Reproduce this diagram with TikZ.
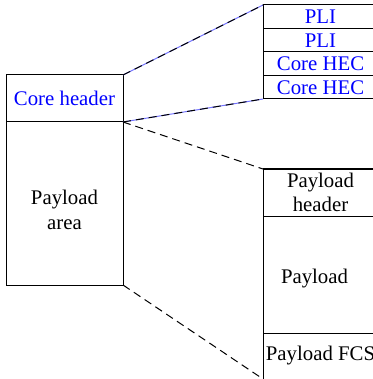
\documentclass[tikz,border=0pt]{standalone}
\usepackage{fontspec}
\setmainfont{Liberation Serif}
\usetikzlibrary{positioning}

\begin{document}
\begin{tikzpicture}[x=0.5pt, y=-0.5pt,
				field/.style={rectangle, draw, align=center, inner sep=0pt, outer sep=0pt,
						line width=0.5pt, font=\fontsize{10.4}{12}\selectfont},
				corefield/.style={field, text=blue, minimum width=57.5pt, minimum height=11.75pt},
				payfield/.style={field, minimum width=57.5pt},
				inlabel/.style={align=center, inner sep=0pt, font=\fontsize{10.4}{12.5}\selectfont},
				zoomline/.style={draw, line width=0.5pt, dash pattern=on 4pt off 2.5pt}
			]
			\useasboundingbox (0,0) rectangle (373,379);
			\clip (0,0) rectangle (373,379);

			% frame on the left
			\node [field, text=blue, anchor=north west, minimum width=58.5pt, minimum height=23.5pt] (corehdr) at (6,75) {Core header};
			\node [field, below=0pt of corehdr, minimum width=58.5pt, minimum height=81.5pt,
				label={[inlabel, yshift=-3pt]center:Payload\\ area}] (payarea) {};

			% core header fields
			\node [corefield, anchor=north west] (pli1) at (263,5) {PLI};
			\node [corefield, below=0pt of pli1] (pli2) {PLI};
			\node [corefield, below=0pt of pli2] (hec1) {Core HEC};
			\node [corefield, below=0pt of hec1] (hec2) {Core HEC};

			% payload area fields
			\node [payfield, anchor=north west, minimum height=23.5pt] (payhdr) at (263,169) {Payload\\ header};
			\node [payfield, below=0pt of payhdr, minimum height=58.5pt,
				label={[inlabel, xshift=-3pt, yshift=-2pt]center:Payload}] (payload) {};
			\node [payfield, below=0pt of payload, minimum height=23pt] (payfcs) {Payload FCS};

			\path [draw=blue!55, line width=0.5pt] (corehdr.north east) -- (pli1.north west);
			\path [draw=blue!55, line width=0.5pt] (corehdr.south east) -- (hec2.south west);
			\path [zoomline] (corehdr.north east) -- (pli1.north west);
			\path [zoomline] (corehdr.south east) -- (hec2.south west);
			\path [zoomline] (payarea.north east) -- (payhdr.north west);
			\path [zoomline] (payarea.south east) -- (payfcs.south west);
		\end{tikzpicture}
\end{document}
